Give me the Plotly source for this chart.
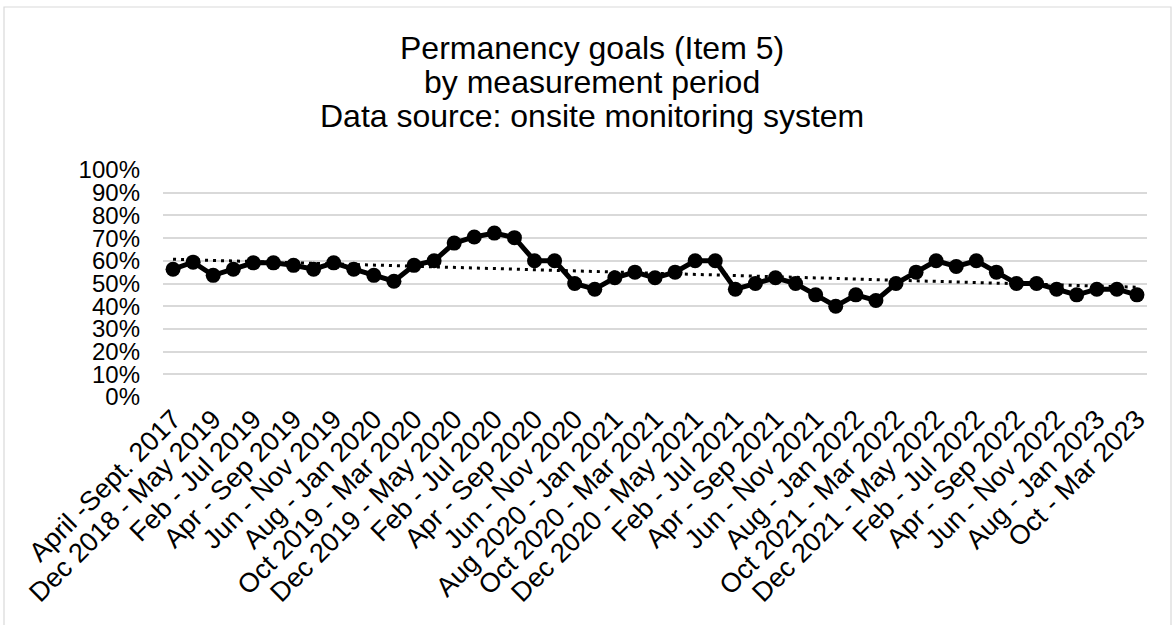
import numpy as np
import plotly.graph_objects as go

# measurement periods (49 points, Excel shows every other label)
tick_labels = [
    "April -Sept. 2017", "Dec 2018 - May 2019", "Feb - Jul 2019", "Apr - Sep 2019",
    "Jun - Nov 2019", "Aug - Jan 2020", "Oct 2019 - Mar 2020", "Dec 2019 - May 2020",
    "Feb - Jul 2020", "Apr - Sep 2020", "Jun - Nov 2020", "Aug 2020 - Jan 2021",
    "Oct 2020 - Mar 2021", "Dec 2020 - May 2021", "Feb - Jul 2021", "Apr - Sep 2021",
    "Jun - Nov 2021", "Aug - Jan 2022", "Oct 2021 - Mar 2022", "Dec 2021 - May 2022",
    "Feb - Jul 2022", "Apr - Sep 2022", "Jun - Nov 2022", "Aug - Jan 2023",
    "Oct - Mar 2023",
]

# percent meeting permanency goals
pct = [56.3, 59.4, 53.6, 56.3, 59.1, 59.1, 58.0, 56.3, 59.1, 56.3,
       53.6, 51.0, 58.0, 60.0, 67.8, 70.5, 72.2, 70.2, 60.0, 60.0,
       50.0, 47.5, 52.5, 55.0, 52.5, 55.0, 60.0, 60.0, 47.5, 50.0,
       52.5, 50.0, 45.0, 40.0, 45.0, 42.5, 50.0, 55.0, 60.0, 57.5,
       60.0, 55.0, 50.0, 50.0, 47.5, 45.0, 47.5, 47.5, 45.0]

title_lines = ["Permanency goals (Item 5)", "by measurement period",
               "Data source: onsite monitoring system"]

x = np.arange(len(pct))
vals = np.array(pct) / 100

# linear trendline like Excel's
slope, icpt = np.polyfit(x, vals, 1)
trend = slope * x + icpt

font = "Liberation Sans, Arial, sans-serif"

fig = go.Figure()
fig.add_trace(go.Scatter(
    x=x, y=trend, mode="lines",
    line=dict(color="black", width=3, dash="3px,5px"),
    hoverinfo="skip",
))
fig.add_trace(go.Scatter(
    x=x, y=vals, mode="lines+markers",
    line=dict(color="black", width=5),
    marker=dict(color="black", size=15),
))

# plot area in pixels: x 163..1147, y 170..397
L, R, T, B = 163, 1147, 170, 397
pw, ph = R - L, B - T

def px(v):
    return (v - L) / pw

def py(v):
    return (B - v) / ph

fig.add_shape(type="rect", xref="paper", yref="paper",
              x0=px(4), x1=px(1171), y0=py(650), y1=py(7),
              line=dict(color="#d9d9d9", width=1.2), layer="below")

# title as three lines, Excel-like tight spacing
for i, line in enumerate(title_lines):
    fig.add_annotation(text=line, xref="paper", yref="paper",
                       x=px(592), y=py(48 + 34 * i),
                       xanchor="center", yanchor="middle", showarrow=False,
                       font=dict(family=font, size=32, color="black"))

fig.update_layout(
    width=1175, height=625,
    margin=dict(l=L, r=1175 - R, t=T, b=625 - B),
    paper_bgcolor="white", plot_bgcolor="white",
    showlegend=False,
    font=dict(family=font, size=24, color="black"),
    xaxis=dict(
        range=[-0.5, len(pct) - 0.5],
        tickmode="array",
        tickvals=x[::2],
        ticktext=tick_labels,
        tickangle=-45,
        showgrid=False, zeroline=False,
        showline=False, ticks="",
        automargin=False,
        tickfont=dict(family=font, size=27, color="black"),
    ),
    yaxis=dict(
        range=[0, 1],
        tickformat=".0%",
        dtick=0.1,
        showgrid=True, gridcolor="#d9d9d9", gridwidth=1.5,
        zeroline=False, showline=False, ticks="",
        automargin=False,
        ticklabelstandoff=22,
        tickfont=dict(family=font, size=24, color="black"),
    ),
)

# drop the browser's default page margin so the figure sits at 0,0
fig.write_html("out.html", config={"displayModeBar": False},
               post_script="document.body.style.margin='0';")
